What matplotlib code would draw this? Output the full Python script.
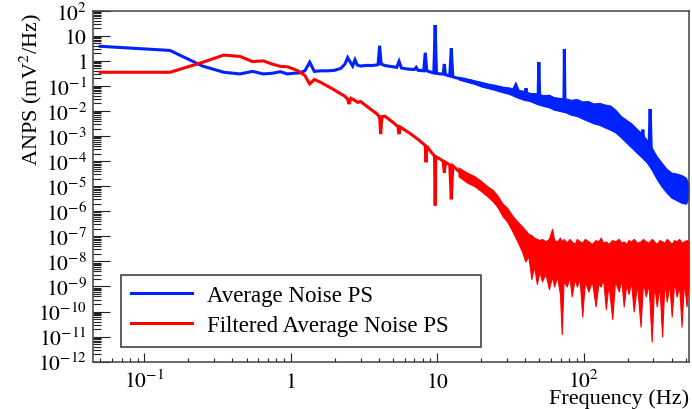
import numpy as np
import matplotlib
matplotlib.use("Agg")
import matplotlib.pyplot as plt
from matplotlib.ticker import FixedLocator, FixedFormatter, NullFormatter

plt.rcParams['font.family'] = ['Liberation Serif', 'DejaVu Serif']
plt.rcParams['mathtext.fontset'] = 'stix'

# ---------------- data ----------------
# Average Noise PS: main curve (Hz, mV^2/Hz) incl. line spikes
blue_freq = [0.05, 0.15, 0.25, 0.35, 0.45, 0.55, 0.65, 0.75, 0.85, 0.95, 1.05, 1.15, 1.25,
             1.35, 1.45, 1.6, 1.8, 2.0, 2.2, 2.35, 2.45, 2.55, 2.65, 2.75, 2.85, 3.0, 3.3,
             3.6, 3.95, 4.05, 4.15, 4.4, 4.8, 5.3, 5.5, 5.7, 6.3, 7.0, 7.2, 7.4, 8.1, 8.3,
             8.5, 9.0, 9.5, 9.7, 9.9, 10.5, 11.0, 11.2, 11.4, 12.2, 12.5, 12.8, 13.5, 15,
             17, 19, 22, 26, 30, 33, 34.5, 36, 40, 40.5, 41, 45, 49.0, 49.5, 50.2, 55, 60,
             65, 70, 73.5, 74, 74.6, 80, 92, 114, 130, 148, 165, 183, 205, 227, 250, 254,
             258, 280, 285, 290, 310, 330, 360, 400, 445, 480, 520]
blue_anps = [3.8, 2.6, 0.62, 0.35, 0.30, 0.38, 0.30, 0.32, 0.37, 0.30, 0.32, 0.33, 0.40,
             0.88, 0.38, 0.40, 0.40, 0.42, 0.50, 0.75, 1.35, 0.9, 0.62, 1.1, 0.68, 0.62, 0.66,
             0.65, 0.70, 4.0, 0.75, 0.65, 0.60, 0.55, 0.95, 0.52, 0.47, 0.45, 0.55, 0.42, 0.40, 2.1,
             0.40, 0.36, 0.33, 27, 0.32, 0.30, 0.30, 0.75, 0.28, 0.25, 3.2, 0.23, 0.21, 0.19,
             0.16, 0.13, 0.10, 0.085, 0.072, 0.065, 0.11, 0.06, 0.052, 0.08, 0.05, 0.042, 0.045, 0.9, 0.04, 0.036, 0.032,
             0.030, 0.027, 0.026, 2.9, 0.025, 0.022, 0.017, 0.012, 0.0105, 0.009, 0.0065, 0.0045, 0.0025, 0.0012, 7e-4, 1.8e-3,
             6e-4, 3.5e-4, 0.012, 3e-4, 1e-4, 5e-5, 3e-5, 1.6e-5, 1.0e-5, 8e-6, 7e-6]

# Average Noise PS: noise band envelope (upper / lower)
blue_band_freq = [14, 16, 18, 20, 22.5, 25, 28, 31, 35, 39, 43, 48, 53, 58, 63, 69, 75, 82,
                  90, 98, 107, 117, 128, 140, 152, 165, 180, 195, 212, 230, 250, 270, 292,
                  315, 340, 368, 398, 430, 465, 500, 520]
blue_band_hi = [2.2e-1, 1.9e-1, 1.66e-1, 1.45e-1, 1.22e-1, 1.1e-1, 9.3e-2, 8.7e-2, 7.1e-2,
                6.3e-2, 5.2e-2, 5.0e-2, 4.2e-2, 4.5e-2, 3.5e-2, 3.3e-2, 3.2e-2, 2.8e-2,
                3.0e-2, 2.4e-2, 2.5e-2, 2.0e-2, 2.1e-2, 1.8e-2, 1.66e-2, 1.12e-2, 6.3e-3,
                4.5e-3, 3.2e-3, 2.0e-3, 1.26e-3, 7.1e-4, 3.5e-4, 1.6e-4, 8.9e-5, 5.0e-5,
                3.5e-5, 3.2e-5, 2.8e-5, 2.2e-5, 1.26e-5]
blue_band_lo = [1.8e-1, 1.45e-1, 1.2e-1, 9.5e-2, 8.0e-2, 6.8e-2, 5.6e-2, 4.8e-2, 3.5e-2,
                2.8e-2, 2.5e-2, 1.9e-2, 1.6e-2, 1.4e-2, 1.12e-2, 1.0e-2, 8.9e-3, 7.1e-3,
                6.3e-3, 5.0e-3, 4.0e-3, 3.2e-3, 2.8e-3, 2.2e-3, 1.8e-3, 1.4e-3, 8.9e-4,
                5.6e-4, 3.5e-4, 2.2e-4, 1.4e-4, 8.9e-5, 4.5e-5, 2.0e-5, 1.0e-5, 5.6e-6,
                3.5e-6, 2.8e-6, 2.2e-6, 2.0e-6, 3.2e-6]

# Filtered Average Noise PS: main curve incl. notch dips
red_freq = [0.05, 0.15, 0.25, 0.35, 0.45, 0.55, 0.65, 0.75, 0.85, 0.95, 1.05, 1.15, 1.25,
            1.35, 1.45, 1.6, 1.94, 2.2, 2.33, 2.45, 2.5, 2.58, 2.7, 2.87, 3.0, 3.5, 3.9,
            4.05, 4.12, 4.2, 4.4, 5.0, 5.4, 5.5, 5.6, 6.5, 7.5, 8.3, 8.4, 8.5, 9.0, 9.6,
            9.7, 9.8, 10.5, 11.0, 11.2, 11.4, 12.2, 12.5, 12.8, 14, 15.5, 17.5, 20, 22,
            24, 26.5, 29.3, 32, 36, 40, 44, 50]
red_anps = [0.35, 0.35, 0.87, 1.7, 1.5, 0.93, 1.0, 0.74, 0.60, 0.58, 0.47, 0.37, 0.26,
            0.12, 0.18, 0.14, 0.075, 0.048, 0.04, 0.03, 0.019, 0.032, 0.028, 0.022, 0.024,
            0.012, 0.0075, 0.0055, 0.0012, 0.006, 0.0062, 0.0035, 0.0024, 0.0012, 0.0023,
            0.0013, 0.0007, 4.2e-4, 9e-5, 4.0e-4, 2.5e-4, 1.6e-4, 1.7e-6, 1.5e-4, 1.2e-4,
            1.0e-4, 3.5e-5, 9e-5, 7e-5, 3e-6, 6.5e-5, 4e-5, 2.8e-5, 2.0e-5, 1.1e-5, 7e-6,
            4.9e-6, 2.2e-6, 9.3e-7, 4.5e-7, 2.0e-7, 1.2e-7, 8e-8, 3e-8]

# Filtered Average Noise PS: noise band envelope (upper / lower, lower with dips)
red_band_freq = [14, 16, 18, 20, 22, 24, 26, 28, 30, 32, 34, 36, 38, 40, 42, 44, 46, 48,
                 50, 52, 55, 58, 61, 63, 66, 69, 71, 73, 77, 80, 83, 87, 90, 94, 98, 102,
                 108, 114, 121, 126, 131, 136, 142, 148, 157, 164, 174, 181, 188, 196,
                 203, 211, 220, 232, 245, 255, 266, 278, 292, 303, 316, 330, 344, 357,
                 370, 385, 400, 416, 432, 450, 467, 485, 505, 520]
red_band_hi = [5.6e-5, 3.5e-5, 2.5e-5, 1.6e-5, 1.0e-5, 7.1e-6, 4.0e-6, 2.0e-6, 1.4e-6,
               7.9e-7, 5.0e-7, 3.5e-7, 2.5e-7, 1.8e-7, 1.26e-7, 1.12e-7, 8.9e-8, 7.9e-8,
               7.1e-8, 7.9e-8, 6.3e-8, 7.9e-8, 2.0e-7, 7.1e-8, 6.3e-8, 8.9e-8, 6.3e-8,
               7.9e-8, 5.6e-8, 7.9e-8, 6.3e-8, 5.0e-8, 7.9e-8, 6.3e-8, 5.6e-8, 7.9e-8,
               6.3e-8, 5.0e-8, 7.1e-8, 6.3e-8, 8.9e-8, 5.6e-8, 6.3e-8, 5.0e-8, 7.1e-8,
               6.3e-8, 7.9e-8, 5.6e-8, 6.3e-8, 5.0e-8, 7.1e-8, 6.3e-8, 7.9e-8, 5.6e-8,
               6.3e-8, 7.9e-8, 6.3e-8, 5.6e-8, 7.9e-8, 6.3e-8, 5.0e-8, 7.1e-8, 6.3e-8,
               5.6e-8, 7.9e-8, 6.3e-8, 5.0e-8, 7.1e-8, 6.3e-8, 7.9e-8, 5.6e-8, 6.3e-8,
               7.1e-8, 6.3e-8]
red_band_lo = [2.5e-5, 1.4e-5, 1.0e-5, 6.3e-6, 4.0e-6, 2.5e-6, 1.4e-6, 6.3e-7, 4.0e-7,
               2.0e-7, 1.0e-7, 5.0e-8, 2.5e-8, 1.0e-8, 1.6e-8, 2.0e-9, 6.3e-9, 1.26e-9,
               4.0e-9, 1.6e-9, 3.2e-9, 7.9e-10, 2.5e-9, 1.0e-9, 2.5e-9, 5.0e-10, 1.26e-11,
               1.6e-9, 1.0e-9, 2.5e-9, 4.0e-10, 2.0e-9, 1.0e-9, 2.0e-9, 6.3e-11, 1.6e-9,
               6.3e-10, 1.6e-9, 1.6e-10, 1.26e-9, 1.0e-9, 2.0e-9, 1.26e-10, 1.26e-9,
               5.0e-11, 1.6e-9, 6.3e-10, 2.0e-9, 1.6e-10, 1.26e-9, 5.0e-10, 1.6e-9,
               1.0e-10, 1.26e-9, 2.5e-11, 1.6e-9, 4.0e-10, 1.26e-9, 6.3e-12, 1.26e-9,
               1.6e-10, 1.0e-9, 1.0e-11, 1.6e-9, 2.5e-10, 1.26e-9, 6.3e-11, 1.6e-9,
               4.0e-10, 1.0e-9, 2.5e-11, 1.6e-9, 1.6e-10, 1.0e-9]

series_labels = ["Average Noise PS", "Filtered Average Noise PS"]
x_tick_vals = [0.1, 1, 10, 100]
x_tick_text = [r"$10^{-1}$", r"$1$", r"$10$", r"$10^{2}$"]
y_tick_vals = [10.0 ** k for k in range(-12, 3)]
y_tick_text = [r"$10^{-12}$", r"$10^{-11}$", r"$10^{-10}$", r"$10^{-9}$", r"$10^{-8}$",
               r"$10^{-7}$", r"$10^{-6}$", r"$10^{-5}$", r"$10^{-4}$", r"$10^{-3}$",
               r"$10^{-2}$", r"$10^{-1}$", r"$1$", r"$10$", r"$10^{2}$"]

BLUE = "#0022ff"
RED = "#ff0000"

# ---------------- figure ----------------
W, H = 692, 410
fig = plt.figure(figsize=(W / 100, H / 100), dpi=100)
ax_l, ax_r, ax_t, ax_b = 93.3, 689.0, 11.7, 362.7
ax = fig.add_axes([ax_l / W, 1 - ax_b / H, (ax_r - ax_l) / W, (ax_b - ax_t) / H])
ax.set_xscale('log')
ax.set_yscale('log')

# blue
ax.fill_between(blue_band_freq, blue_band_lo, blue_band_hi, color=BLUE, lw=0.8,
                edgecolor=BLUE, zorder=2)
lb, = ax.plot(blue_freq, blue_anps, color=BLUE, lw=2.2, zorder=3,
              solid_joinstyle='miter', label=series_labels[0])
# red
ax.fill_between(red_band_freq, red_band_lo, red_band_hi, color=RED, lw=0.8,
                edgecolor=RED, zorder=4)
lr, = ax.plot(red_freq, red_anps, color=RED, lw=2.2, zorder=5,
              solid_joinstyle='miter', label=series_labels[1])

ax.set_xlim(0.0449, 525)
ax.set_ylim(1e-12, 1e2)

# ticks (ROOT style: inside, left/bottom only)
ax.xaxis.set_major_locator(FixedLocator(x_tick_vals))
ax.xaxis.set_major_formatter(FixedFormatter(x_tick_text))
ax.yaxis.set_major_locator(FixedLocator(y_tick_vals))
ax.yaxis.set_major_formatter(FixedFormatter(y_tick_text))
xminor = [m * 10.0 ** k for k in range(-2, 3) for m in range(2, 10)]
yminor = [m * 10.0 ** k for k in range(-12, 2) for m in range(2, 10)]
ax.xaxis.set_minor_locator(FixedLocator(xminor))
ax.yaxis.set_minor_locator(FixedLocator(yminor))
ax.xaxis.set_minor_formatter(NullFormatter())
ax.yaxis.set_minor_formatter(NullFormatter())
ax.tick_params(axis='both', which='both', direction='in', top=False, right=False,
               colors='#222222', width=0.8, labelcolor='black')
ax.tick_params(axis='x', which='major', length=6.7, pad=18.2, labelsize=15.5)
ax.tick_params(axis='x', which='minor', length=3.2)
ax.tick_params(axis='y', which='major', length=12, pad=4.5, labelsize=15.5)
ax.tick_params(axis='y', which='minor', length=5.5)
for lbl in ax.get_xticklabels():
    lbl.set_verticalalignment('baseline')

for s in ax.spines.values():
    s.set_color('#444444')
    s.set_linewidth(1.1)

ax.set_xlabel("Frequency (Hz)", fontsize=16, ha='right', va='baseline')
ax.xaxis.set_label_coords(1.0, -(404.5 - ax_b) / (ax_b - ax_t))
ax.set_ylabel("ANPS (mV$^{2}$/Hz)", fontsize=16, ha='right', va='center',
              rotation_mode='anchor')
ax.yaxis.set_label_coords(-(ax_l - 31) / (ax_r - ax_l), (ax_b - 13) / (ax_b - ax_t))

leg = ax.legend(handles=[lb, lr], loc='lower left',
                bbox_to_anchor=((120.7 - ax_l) / (ax_r - ax_l), (ax_b - 347.7) / (ax_b - ax_t),
                                (481 - 120.7) / (ax_r - ax_l), 0.19),
                mode='expand', borderaxespad=0, fontsize=16.5, frameon=True, fancybox=False,
                shadow=False, framealpha=1, edgecolor='#333333', handlelength=2.65,
                handletextpad=0.65, labelspacing=0.4, borderpad=0.45)
leg.get_frame().set_linewidth(1.1)

fig.savefig("out.png", dpi=100)
